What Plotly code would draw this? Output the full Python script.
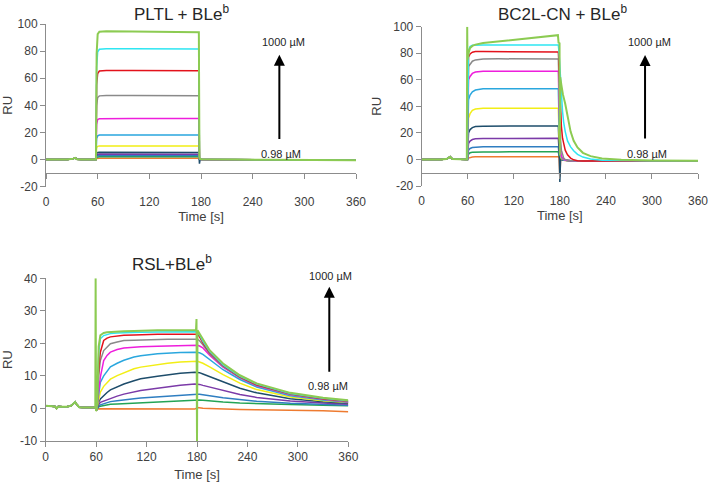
import plotly.graph_objects as go

W, H = 709, 482

# ---------------- data ----------------
CURVE_NAMES = ["0 µM", "0.98 µM", "1.95 µM", "3.9 µM", "7.8 µM", "15.6 µM",
               "31.3 µM", "62.5 µM", "125 µM", "250 µM", "500 µM", "1000 µM"]
X_TICKS = [0, 60, 120, 180, 240, 300, 360]
Y_TICKS_TOP = [-20, 0, 20, 40, 60, 80, 100]
Y_LABELS_TOP = ["-20", "0", "20", "40", "60", "80", "100"]
Y_TICKS_BOT = [-10, 0, 10, 20, 30, 40]
Y_LABELS_BOT = ["-10", "0", "10", "20", "30", "40"]

# ---- PLTL + BLe^b ----
P1_T_BASE = [0, 8, 15, 25, 30, 32, 34, 36, 42, 50, 57.5]
P1_BASE = [0.0, -0.2, 0.0, 0.1, 0.2, 0.7, 1.3, 0.3, 0.0, 0.0, 0.0]
P1_T_ASSOC = [58.0, 58.8, 60.0, 62.0, 70.0, 100.0, 140.0, 177.5]
P1_ASSOC = [
    [0, 0.8, 1.0, 1.0, 1.0, 1.0, 1.0, 1.0],
    [0, 1.7, 2.0, 2.0, 2.0, 2.0, 2.0, 2.0],
    [0, 2.6, 3.0, 3.0, 3.0, 3.0, 3.0, 3.0],
    [0, 3.5, 4.0, 4.1, 4.1, 4.1, 4.0, 4.0],
    [0, 4.6, 5.2, 5.4, 5.4, 5.4, 5.3, 5.3],
    [0, 8.8, 9.8, 10.1, 10.1, 10.1, 10.1, 10.0],
    [0, 15.5, 17.5, 18.1, 18.2, 18.2, 18.2, 18.1],
    [0, 26.0, 29.5, 30.2, 30.3, 30.3, 30.3, 30.3],
    [0, 40.0, 45.8, 47.0, 47.3, 47.3, 47.2, 47.1],
    [0, 55.0, 63.5, 65.3, 65.7, 65.7, 65.6, 65.5],
    [0, 68.0, 79.5, 81.4, 81.8, 81.8, 81.7, 81.6],
    [0, 78.0, 92.5, 94.3, 94.6, 94.5, 94.3, 94.0],
]
P1_T_DISS = [178.2, 179.0, 181.0, 190.0, 220.0, 260.0, 300.0, 360.0]
P1_DISS = [
    [0.3, 0.1, 0.0, 0.0, -0.1, -0.2, -0.3, -0.4],
    [0.4, 0.1, 0.0, 0.0, -0.1, -0.2, -0.3, -0.4],
    [0.4, 0.2, 0.1, 0.0, -0.1, -0.2, -0.3, -0.4],
    [0.5, 0.2, 0.1, 0.0, -0.1, -0.2, -0.3, -0.4],
    [-3.0, 0.2, 0.1, 0.0, -0.1, -0.2, -0.3, -0.4],
    [0.6, 0.2, 0.1, 0.0, -0.1, -0.2, -0.3, -0.4],
    [0.7, 0.2, 0.1, 0.0, -0.1, -0.2, -0.3, -0.4],
    [0.8, 0.3, 0.1, 0.0, -0.1, -0.2, -0.3, -0.4],
    [1.0, 0.3, 0.1, 0.0, -0.1, -0.2, -0.3, -0.4],
    [1.2, 0.4, 0.2, 0.1, 0.0, -0.1, -0.3, -0.4],
    [1.3, 0.4, 0.2, 0.1, 0.0, -0.1, -0.3, -0.4],
    [1.5, 0.5, 0.2, 0.1, 0.0, -0.1, -0.2, -0.4],
]

# ---- BC2L-CN + BLe^b ----
P2_T_BASE = [0, 8, 15, 25, 32, 35, 37, 40, 48, 58.8]
P2_BASE = [0.0, -0.3, -0.1, 0.0, 0.3, 1.2, 2.0, 0.3, 0.0, 0.0]
P2_T_ASSOC = [59.6, 61.0, 63.0, 66.0, 70.0, 80.0, 100.0, 140.0, 177.5]
P2_ASSOC = [
    [0, 1.0, 1.5, 1.8, 2.0, 2.0, 2.0, 2.0, 2.0],
    [0, 4.0, 5.0, 5.4, 5.6, 5.7, 5.7, 5.7, 5.8],
    [0, 7.0, 8.3, 9.0, 9.3, 9.5, 9.5, 9.5, 9.6],
    [0, 12.0, 13.8, 15.0, 15.5, 15.8, 15.8, 15.8, 15.9],
    [0, 20.0, 22.5, 24.0, 24.8, 25.1, 25.1, 25.1, 25.2],
    [0, 31.0, 34.5, 37.0, 38.0, 38.5, 38.5, 38.5, 38.6],
    [0, 45.0, 48.5, 51.0, 52.3, 53.2, 53.3, 53.3, 53.3],
    [0, 60.0, 62.5, 64.8, 65.8, 66.5, 66.6, 66.5, 66.4],
    [0, 70.0, 72.0, 74.0, 75.0, 75.7, 75.8, 75.7, 75.6],
    [0, 77.0, 79.5, 80.8, 81.3, 81.3, 81.2, 81.1, 81.0],
    [0, 82.0, 85.0, 86.0, 86.2, 86.3, 86.3, 86.2, 86.2],
    [75.0, 80.0, 84.0, 85.5, 86.5, 87.7, 88.8, 91.2, 93.6],
]
P2_LG_SPIKE_T = [59.3]
P2_LG_SPIKE = [100.0]
P2_T_DISS = [178.0, 179.0, 180.0, 181.0, 182.0, 183.5, 185.0, 187.0, 190.0,
             194.0, 198.0, 203.0, 210.0, 220.0, 235.0, 260.0, 300.0, 360.0]
P2_DISS = [
    [2.0, 1.0, -13.0, 0.0, -0.3, -0.5, -0.6, -0.7, -0.8, -0.9, -1.0, -1.0, -1.0, -1.0, -1.0, -1.0, -1.0, -1.0],
    [5.8, 2.5, 0.5, 0.1, -0.2, -0.4, -0.6, -0.7, -0.8, -1.0, -1.0, -1.0, -1.0, -1.0, -1.0, -1.0, -1.0, -1.0],
    [9.6, 4.0, 1.0, 0.3, 0.0, -0.3, -0.5, -0.7, -0.8, -1.0, -1.0, -1.0, -1.0, -1.0, -1.0, -1.0, -1.0, -1.0],
    [15.9, 7.0, 2.0, 0.8, 0.2, -0.2, -0.5, -0.7, -0.8, -1.0, -1.0, -1.0, -1.0, -1.0, -1.0, -1.0, -1.0, -1.0],
    [25.2, 10.0, -17.0, 1.5, 0.5, 0.0, -0.4, -0.6, -0.8, -1.0, -1.0, -1.0, -1.0, -1.0, -1.0, -1.0, -1.0, -1.0],
    [38.6, 18.0, 6.0, 2.0, 0.5, 0.0, -0.4, -0.6, -0.8, -1.0, -1.0, -1.0, -1.0, -1.0, -1.0, -1.0, -1.0, -1.0],
    [53.3, 28.0, 10.0, 4.0, 1.5, 0.3, -0.3, -0.6, -0.8, -1.0, -1.0, -1.0, -1.0, -1.0, -1.0, -1.0, -1.0, -1.0],
    [66.4, 40.0, 16.0, 6.0, 2.5, 0.8, 0.0, -0.5, -0.8, -1.0, -1.0, -1.0, -1.0, -1.0, -1.0, -1.0, -1.0, -1.0],
    [75.6, 55.0, 30.0, 14.0, 7.0, 3.0, 1.0, 0.0, -0.6, -0.9, -1.0, -1.0, -1.0, -1.0, -1.0, -1.0, -1.0, -1.0],
    [81.0, 70.0, 50.0, 35.0, 25.0, 16.0, 11.0, 7.0, 3.5, 1.0, -0.3, -1.0, -1.2, -1.2, -1.1, -1.0, -1.0, -1.0],
    [86.2, 80.0, 68.0, 56.0, 46.0, 36.0, 28.0, 21.0, 14.0, 9.5, 6.5, 3.8, 1.8, 0.3, -0.6, -0.9, -1.0, -1.0],
]
P2_LG_T_DISS = [178.3, 179.6, 180.0, 180.5, 182.0, 184.0, 187.0, 190.0, 194.0,
                198.0, 203.0, 210.0, 220.0, 235.0, 260.0, 300.0, 360.0]
P2_LG_DISS = [88.0, 87.5, 3.0, 62.0, 56.0, 49.0, 42.0, 32.0, 21.0,
              14.0, 9.0, 5.0, 2.5, 0.8, -0.3, -0.8, -1.0]

# ---- RSL + BLe^b ----
P3_T_BASE = [0, 4, 8, 11, 13, 15, 20, 25, 30, 33, 35, 37, 40, 45, 50, 55, 59.0]
P3_BASE = [0.8, 0.7, 0.6, 0.6, 0.0, 0.6, 0.5, 0.5, 0.8, 1.4, 2.0, 1.2, 0.4, 0.3, 0.3, 0.3, 0.3]
P3_T_ASSOC = [60.5, 61.5, 63, 65, 69, 73, 77, 85, 93, 105, 113, 133, 145, 160, 177.5]
P3_ASSOC = [
    [-0.5, -0.2, -0.1, -0.1, -0.1, -0.1, -0.1, -0.1, -0.1, -0.1, -0.1, -0.2, -0.2, -0.2, -0.2],
    [-0.5, 0.1, 0.5, 0.7, 0.9, 1.1, 1.3, 1.4, 1.5, 1.8, 1.9, 2.2, 2.3, 2.5, 2.6],
    [-0.5, 0.3, 0.8, 1.1, 1.5, 1.8, 2.1, 2.4, 2.7, 3.0, 3.2, 3.6, 3.9, 4.2, 4.4],
    [-0.5, 0.5, 1.2, 1.9, 2.3, 2.6, 3.0, 3.8, 4.4, 5.1, 5.5, 6.2, 6.7, 7.1, 7.5],
    [-0.5, 0.8, 2.0, 2.9, 4.0, 4.9, 5.7, 6.7, 7.5, 8.5, 9.1, 9.9, 10.3, 10.8, 11.1],
    [-0.5, 1.0, 3.0, 5.0, 6.8, 8.0, 9.0, 10.1, 11.0, 12.2, 12.7, 13.5, 13.9, 14.3, 14.5],
    [-0.5, 1.5, 5.0, 8.0, 10.0, 11.6, 12.8, 13.9, 14.8, 15.8, 16.2, 16.8, 17.0, 17.2, 17.3],
    [-0.5, 1.5, 6.0, 9.6, 14.7, 16.3, 17.3, 18.1, 18.6, 18.9, 19.0, 19.1, 19.2, 19.3, 19.4],
    [-0.5, 2.0, 10.0, 14.7, 17.8, 19.0, 19.9, 20.4, 20.9, 21.0, 21.1, 21.2, 21.3, 21.3, 21.3],
    [-0.5, 2.0, 12.0, 17.3, 20.9, 21.6, 22.0, 22.3, 22.5, 22.6, 22.7, 22.8, 22.8, 22.8, 22.8],
    [-0.5, 2.5, 17.0, 21.4, 22.4, 22.8, 23.0, 23.2, 23.3, 23.4, 23.4, 23.5, 23.5, 23.5, 23.5],
    [-0.5, 3.0, 19.0, 22.5, 23.2, 23.4, 23.5, 23.6, 23.7, 23.8, 23.9, 24.0, 24.0, 24.0, 24.0],
]
P3_LG_SPIKE_T = [59.4, 59.9, 178.8, 179.4, 180.0]
P3_LG_SPIKE = [40.0, -0.8, 24.0, 27.5, -10.0]
P3_T_DISS = [180.6, 183, 187, 195, 211, 231, 251, 291, 330, 360]
P3_DISS = [
    [0.3, 0.2, 0.1, 0.0, -0.2, -0.3, -0.4, -0.5, -0.7, -1.0],
    [2.6, 2.6, 2.5, 2.3, 2.0, 1.7, 1.5, 1.2, 1.0, 0.8],
    [4.4, 4.4, 4.2, 3.9, 3.3, 2.7, 2.2, 1.6, 1.2, 1.0],
    [7.5, 7.4, 7.1, 6.6, 5.5, 4.3, 3.4, 2.3, 1.7, 1.3],
    [11.1, 11.0, 10.6, 9.8, 8.1, 6.2, 4.8, 3.0, 2.1, 1.6],
    [14.5, 14.3, 13.9, 12.8, 10.4, 7.8, 5.8, 3.5, 2.4, 1.8],
    [17.3, 17.1, 16.6, 15.0, 11.9, 8.9, 6.6, 3.9, 2.6, 1.9],
    [19.4, 19.2, 18.6, 16.4, 12.7, 9.4, 7.0, 4.2, 2.8, 2.0],
    [21.3, 20.8, 19.6, 16.8, 12.9, 9.5, 7.1, 4.3, 2.9, 2.1],
    [22.8, 22.0, 20.2, 17.2, 13.2, 9.7, 7.3, 4.5, 3.0, 2.3],
    [23.6, 22.6, 20.6, 17.5, 13.4, 9.9, 7.5, 4.6, 3.1, 2.4],
    [24.0, 23.0, 21.0, 17.9, 13.8, 10.2, 7.7, 4.8, 3.3, 2.5],
]

# ---------------- style ----------------
COLORS = ["#EE7B30", "#23A455", "#2F7EC1", "#7B3AA8", "#1E4D6B", "#F2EE16",
          "#2AA7DE", "#EE1EDC", "#8A8A8A", "#E3121B", "#2EE6F2", "#8CCB52"]
FONT = "Liberation Sans, Arial, sans-serif"
AX_COLOR = "#8C8C8C"
TXT = "#404040"


def px_x(p):
    return p / W


def px_y(p):
    return 1 - p / H


P1_DOM_X = [px_x(46), px_x(356)]
P1_DOM_Y = [px_y(186.7), px_y(24)]
P2_DOM_X = [px_x(421.7), px_x(698)]
P2_DOM_Y = [px_y(186), px_y(26.7)]
P3_DOM_X = [px_x(45.7), px_x(348.3)]
P3_DOM_Y = [px_y(441), px_y(278.3)]


def merge(*parts):
    pts = []
    for tt, yy in parts:
        pts += list(zip(tt, yy))
    pts.sort(key=lambda p: p[0])
    return [p[0] for p in pts], [p[1] for p in pts]


fig = go.Figure()


def add_panel(xa, ya, tb, base, ta, assoc, td, diss, extra_lg=None, lg_diss=None):
    n = len(assoc)
    for i in range(n):
        parts = [(tb, base), (ta, assoc[i])]
        if i == n - 1:
            if extra_lg is not None:
                parts.append(extra_lg)
            if lg_diss is not None:
                parts.append(lg_diss)
            else:
                parts.append((td, diss[i]))
        else:
            parts.append((td, diss[i]))
        t, y = merge(*parts)
        fig.add_trace(go.Scatter(
            x=t, y=y, mode="lines", name=CURVE_NAMES[i], xaxis=xa, yaxis=ya,
            line=dict(color=COLORS[i], width=2.0 if i == n - 1 else 1.5, shape="linear"),
            showlegend=False, hoverinfo="skip"))


add_panel("x", "y", P1_T_BASE, P1_BASE, P1_T_ASSOC, P1_ASSOC, P1_T_DISS, P1_DISS)
add_panel("x2", "y2", P2_T_BASE, P2_BASE, P2_T_ASSOC, P2_ASSOC, P2_T_DISS, P2_DISS,
          extra_lg=(P2_LG_SPIKE_T, P2_LG_SPIKE), lg_diss=(P2_LG_T_DISS, P2_LG_DISS))
add_panel("x3", "y3", P3_T_BASE, P3_BASE, P3_T_ASSOC, P3_ASSOC, P3_T_DISS, P3_DISS,
          extra_lg=(P3_LG_SPIKE_T, P3_LG_SPIKE))

# dummy traces so the overlay (crossing) x-axes get drawn
fig.add_trace(go.Scatter(x=[None], y=[None], xaxis="x4", yaxis="y", showlegend=False, hoverinfo="skip"))
fig.add_trace(go.Scatter(x=[None], y=[None], xaxis="x5", yaxis="y2", showlegend=False, hoverinfo="skip"))

tickfont = dict(family=FONT, size=12, color=TXT)
titlefont = dict(family=FONT, size=13, color=TXT)


def xmain(dom, anchor, show_line):
    d = dict(domain=dom, range=[0, 360], anchor=anchor, tickvals=X_TICKS, automargin=False,
             showgrid=False, zeroline=False, showline=show_line, linecolor=AX_COLOR,
             linewidth=1, tickfont=tickfont)
    if show_line:
        d.update(ticks="outside", ticklen=5, tickcolor=AX_COLOR, ticklabelstandoff=0,
                 title=dict(text="Time [s]", font=titlefont, standoff=11))
    else:
        d.update(ticks="", ticklabelstandoff=6,
                 title=dict(text="Time [s]", font=titlefont, standoff=2))
    return d


def yax(dom, anchor, rng, tv, tt):
    return dict(domain=dom, range=rng, anchor=anchor, tickvals=tv, ticktext=tt, showgrid=False,
                zeroline=False, showline=True, linecolor=AX_COLOR, linewidth=1,
                ticks="outside", ticklen=5, tickcolor=AX_COLOR, tickfont=tickfont,
                automargin=False, title=dict(text="RU", font=titlefont, standoff=8))


def cross_pos(dom, rng, val):
    return dom[0] + (val - rng[0]) / (rng[1] - rng[0]) * (dom[1] - dom[0])


R12 = [-20, 100]
R3 = [-10, 40]

cross_common = dict(range=[0, 360], anchor="free", tickvals=X_TICKS, automargin=False,
                    showticklabels=False, showgrid=False, zeroline=False, showline=True,
                    linecolor=AX_COLOR, ticks="outside", ticklen=5, tickcolor=AX_COLOR)

layout = dict(
    width=W, height=H, margin=dict(l=0, r=0, t=0, b=0, autoexpand=False),
    paper_bgcolor="white", plot_bgcolor="rgba(0,0,0,0)",
    font=dict(family=FONT, color=TXT),
    xaxis=xmain(P1_DOM_X, "y", False),
    yaxis=yax(P1_DOM_Y, "x", R12, Y_TICKS_TOP, Y_LABELS_TOP),
    xaxis2=xmain(P2_DOM_X, "y2", False),
    yaxis2=yax(P2_DOM_Y, "x2", R12, Y_TICKS_TOP, Y_LABELS_TOP),
    xaxis3=xmain(P3_DOM_X, "y3", True),
    yaxis3=yax(P3_DOM_Y, "x3", R3, Y_TICKS_BOT, Y_LABELS_BOT),
    xaxis4=dict(overlaying="x", position=cross_pos(P1_DOM_Y, R12, -10), **cross_common),
    xaxis5=dict(overlaying="x2", position=cross_pos(P2_DOM_Y, R12, -10), **cross_common),
)
fig.update_layout(**layout)

ann = []
title_font = dict(family=FONT, size=17, color="#262626")
ann.append(dict(text="PLTL + BLe<sup>b</sup>", x=px_x(181.7), y=px_y(12.7), xref="paper", yref="paper",
                showarrow=False, font=title_font, xanchor="center", yanchor="middle"))
ann.append(dict(text="BC2L-CN + BLe<sup>b</sup>", x=px_x(562), y=px_y(12.7), xref="paper", yref="paper",
                showarrow=False, font=title_font, xanchor="center", yanchor="middle"))
ann.append(dict(text="RSL+BLe<sup>b</sup>", x=px_x(171.7), y=px_y(263.3), xref="paper", yref="paper",
                showarrow=False, font=title_font, xanchor="center", yanchor="middle"))

lab_font = dict(family=FONT, size=11, color="#262626")
# concentration arrows (data coordinates of head and tail)
for xr, yr, ax_x, head_y, tail_y in [
    ("x", "y", 271, 77.3, 14),
    ("x2", "y2", 291, 78.7, 14.6),
    ("x3", "y3", 337.4, 37.4, 10.8),
]:
    ann.append(dict(x=ax_x, y=head_y, ax=ax_x, ay=tail_y, xref=xr, yref=yr, axref=xr, ayref=yr,
                    text="", showarrow=True, arrowhead=2, arrowsize=1.1, arrowwidth=2,
                    arrowcolor="black", standoff=0))
# labels (pixel positions of the reference)
for tx, ty, txt in [
    (283, 42.3, "1000 µM"), (281, 154.3, "0.98 µM"),
    (649.3, 42.3, "1000 µM"), (646.7, 154, "0.98 µM"),
    (330, 275.7, "1000 µM"), (328.3, 386, "0.98 µM"),
]:
    ann.append(dict(x=px_x(tx), y=px_y(ty), xref="paper", yref="paper", text=txt,
                    showarrow=False, font=lab_font, xanchor="center", yanchor="middle"))

fig.update_layout(annotations=ann)
fig.write_html("out.html")
